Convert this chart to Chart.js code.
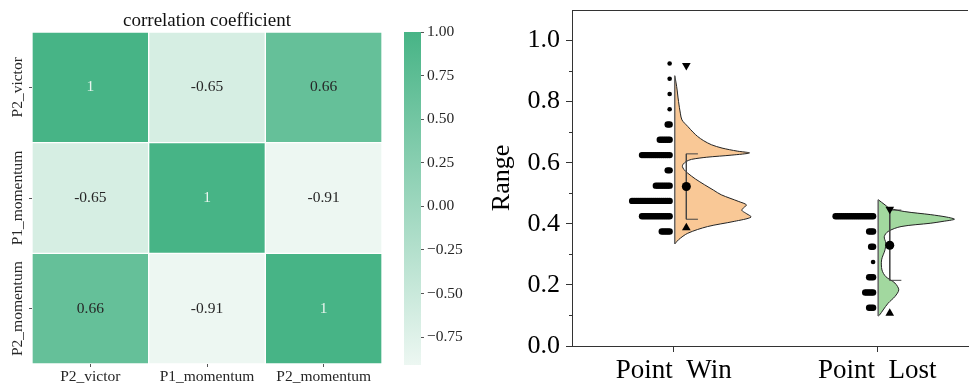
<!DOCTYPE html>
<html>
<head>
<meta charset="utf-8">
<script src="https://cdn.jsdelivr.net/npm/chart.js@4.4.0/dist/chart.umd.min.js"></script>
<style>
  body { margin: 0; background: #fff; }
  #wrap { position: relative; width: 973px; height: 385px; overflow: hidden; }
  canvas { position: absolute; top: 0; }
</style>
</head>
<body>
<div id="wrap">
  <canvas id="heat" width="383" height="385" style="left:0"></canvas>
  <canvas id="cbar" width="85" height="385" style="left:390px"></canvas>
  <canvas id="rain" width="493" height="385" style="left:480px"></canvas>
</div>
<script>
// heatmap data
const VARS = ['P2_victor', 'P1_momentum', 'P2_momentum'];
const CORR = [
  [1, -0.65, 0.66],
  [-0.65, 1, -0.91],
  [0.66, -0.91, 1]
];
const CB_MIN = -0.91, CB_MAX = 1.0;
const CB_TICKS = [-0.75, -0.5, -0.25, 0, 0.25, 0.5, 0.75, 1.0];

// raincloud data
const GROUPS = ['Point  Win', 'Point  Lost'];
const Y_TICKS = [0, 0.2, 0.4, 0.6, 0.8, 1.0];
const Y_MINOR = [0.1, 0.3, 0.5, 0.7, 0.9];

// half violin profiles (y, relative density), top -> bottom
const WIN_KDE_Y = [0.885, 0.85, 0.80, 0.76, 0.74, 0.719, 0.70, 0.686, 0.672, 0.659, 0.648, 0.638, 0.632, 0.625, 0.618, 0.611, 0.604, 0.595, 0.588, 0.578, 0.566, 0.547, 0.528, 0.51, 0.495, 0.473, 0.462, 0.452, 0.444, 0.435, 0.422, 0.408, 0.391, 0.369, 0.348, 0.334];
const WIN_KDE   = [0, 0.025, 0.05, 0.075, 0.095, 0.17, 0.24, 0.30, 0.38, 0.48, 0.62, 0.82, 0.98, 0.75, 0.42, 0.22, 0.15, 0.11, 0.10, 0.12, 0.17, 0.27, 0.39, 0.51, 0.61, 0.84, 0.94, 0.90, 0.88, 0.93, 1.0, 0.78, 0.43, 0.17, 0.05, 0];
const LOST_KDE_Y = [0.479, 0.462, 0.451, 0.44, 0.43, 0.422, 0.415, 0.408, 0.402, 0.391, 0.375, 0.358, 0.337, 0.315, 0.282, 0.249, 0.227, 0.206, 0.184, 0.162, 0.14, 0.118, 0.102, 0.098];
const LOST_KDE   = [0, 0.09, 0.15, 0.35, 0.69, 0.9, 1.0, 0.85, 0.69, 0.30, 0.13, 0.08, 0.10, 0.09, 0.045, 0.05, 0.10, 0.22, 0.27, 0.22, 0.13, 0.065, 0.02, 0];

// dot strips (bin centre, count)
const WIN_BINS   = [0.925, 0.875, 0.825, 0.775, 0.725, 0.675, 0.625, 0.575, 0.525, 0.475, 0.425, 0.375];
const WIN_COUNTS = [1, 1, 1, 1, 2, 6, 15, 2, 8, 20, 15, 5];
const LOST_BINS   = [0.425, 0.375, 0.325, 0.275, 0.225, 0.175, 0.125];
const LOST_COUNTS = [20, 3, 2, 1, 3, 5, 3];

// summary stats per group
const MEAN = [0.522, 0.33];
const SD   = [0.107, 0.115];
const P_HI = [0.918, 0.448];
const P_LO = [0.387, 0.107];

// styles
const SERIF = '"Liberation Serif", "Times New Roman", serif';
const AXIS = '#333';
const LOW = [237, 247, 242], HIGH = [71, 180, 134];
const FILLS = ['#f9c896', '#a2d89f'];
const VIOLIN_W = 0.375, BASE_OFF = 0.005, DOT_OFF = 0.02, DOT_STEP = 0.0097;
const STAT_OFF = 0.062, CAP = 0.057;

Chart.defaults.font.family = SERIF;
Chart.defaults.animation = false;

function cmap(v) {
  const t = (v - CB_MIN) / (CB_MAX - CB_MIN);
  const c = LOW.map((l, i) => Math.round(l + (HIGH[i] - l) * t));
  return `rgb(${c[0]},${c[1]},${c[2]})`;
}

// heatmap
const heatText = {
  id: 'heatText',
  afterDatasetsDraw(chart) {
    const c = chart.ctx;
    c.save();
    c.font = '15.5px ' + SERIF;
    c.textAlign = 'center';
    c.textBaseline = 'middle';
    chart.data.datasets.forEach((ds, di) => {
      chart.getDatasetMeta(di).data.forEach((bar, col) => {
        const v = CORR[ds.row][col];
        c.fillStyle = v === 1 ? '#e8f5ee' : '#262626';
        c.fillText(v === 1 ? '1' : v.toFixed(2), bar.x, (bar.y + bar.base) / 2);
      });
    });
    const ys = chart.scales.y;
    c.fillStyle = '#262626';
    VARS.forEach((name, r) => {
      c.save();
      c.translate(chart.chartArea.left - 14, ys.getPixelForValue(VARS.length - 0.5 - r));
      c.rotate(-Math.PI / 2);
      c.fillText(name, 0, 0);
      c.restore();
    });
    c.restore();
  }
};

new Chart(document.getElementById('heat'), {
  type: 'bar',
  data: {
    labels: VARS,
    datasets: [2, 1, 0].map(r => ({
      row: r,
      data: VARS.map(() => 1),
      backgroundColor: ctx => cmap(CORR[r][ctx.dataIndex]),
      borderColor: '#fff',
      borderWidth: 1,
      borderSkipped: false,
      barPercentage: 1,
      categoryPercentage: 1
    }))
  },
  options: {
    responsive: false,
    devicePixelRatio: 1,
    layout: { padding: { right: 1 } },
    plugins: {
      legend: { display: false },
      tooltip: { enabled: false },
      title: {
        display: true, text: 'correlation coefficient', color: '#111', fullSize: false,
        font: { family: SERIF, size: 19, weight: 'normal' },
        padding: { top: 9.2, bottom: 0 }
      }
    },
    scales: {
      x: {
        stacked: true,
        grid: { offset: false, drawOnChartArea: false, tickLength: 3, color: '#555' },
        border: { display: false },
        ticks: { color: '#262626', font: { size: 15.5 }, padding: 1, maxRotation: 0 },
        afterFit: s => { s.height = 21; }
      },
      y: {
        stacked: true, min: 0, max: 3,
        afterBuildTicks: s => { s.ticks = [0.5, 1.5, 2.5].map(v => ({ value: v })); },
        ticks: { display: false },
        grid: { drawOnChartArea: false, tickLength: 3, color: '#555' },
        border: { display: false },
        afterFit: s => { s.width = 32; }
      }
    }
  },
  plugins: [heatText]
});

// colorbar
new Chart(document.getElementById('cbar'), {
  type: 'bar',
  data: {
    labels: [''],
    datasets: [{
      data: [[CB_MIN, CB_MAX]],
      backgroundColor: ctx => {
        const { chart } = ctx;
        if (!chart.chartArea) return cmap(0);
        const y = chart.scales.y;
        const g = chart.ctx.createLinearGradient(0, y.getPixelForValue(CB_MIN), 0, y.getPixelForValue(CB_MAX));
        g.addColorStop(0, cmap(CB_MIN));
        g.addColorStop(1, cmap(CB_MAX));
        return g;
      },
      borderWidth: 0,
      barPercentage: 1,
      categoryPercentage: 1
    }]
  },
  options: {
    responsive: false,
    devicePixelRatio: 1,
    layout: { padding: { left: 14, top: 32, bottom: 20 } },
    plugins: { legend: { display: false }, tooltip: { enabled: false } },
    scales: {
      x: { display: false },
      y: {
        position: 'right', min: CB_MIN, max: CB_MAX,
        afterBuildTicks: s => { s.ticks = CB_TICKS.map(v => ({ value: v })); },
        ticks: {
          color: '#262626', font: { size: 15.5 }, padding: 3,
          callback: v => v.toFixed(2).replace('-', '\u2212')
        },
        grid: { drawOnChartArea: false, tickLength: 3, color: '#555' },
        border: { display: false },
        afterFit: s => { s.width = 54; }
      }
    }
  }
});

// raincloud
function violin(g, ys, dens) {
  const base = g + 1 + BASE_OFF;
  return ys.map((y, i) => ({ x: base + dens[i] * VIOLIN_W, y }));
}
function baseline(g, ys) {
  const base = g + 1 + BASE_OFF;
  return [{ x: base, y: ys[0] }, { x: base, y: ys[ys.length - 1] }];
}
function dots(g, bins, counts) {
  const pts = [];
  bins.forEach((b, i) => {
    for (let k = 0; k < counts[i]; k++) pts.push({ x: g + 1 - DOT_OFF - k * DOT_STEP, y: b, n: counts[i] });
  });
  return pts;
}
function bracket(g) {
  const x = g + 1 + STAT_OFF;
  const hi = MEAN[g] + SD[g], lo = MEAN[g] - SD[g];
  return [{ x: x + CAP, y: hi }, { x, y: hi }, { x, y: lo }, { x: x + CAP, y: lo }];
}

const kdes = [[WIN_KDE_Y, WIN_KDE], [LOST_KDE_Y, LOST_KDE]];
const strips = [[WIN_BINS, WIN_COUNTS], [LOST_BINS, LOST_COUNTS]];
const rainSets = [];
GROUPS.forEach((name, g) => {
  rainSets.push({
    type: 'line', data: violin(g, kdes[g][0], kdes[g][1]), order: 6,
    fill: 'shape', backgroundColor: FILLS[g], borderColor: '#222', borderWidth: 1,
    tension: 0.3, pointRadius: 0
  });
  rainSets.push({
    type: 'line', data: baseline(g, kdes[g][0]), order: 5,
    borderColor: '#666', borderWidth: 1.5, pointRadius: 0, fill: false
  });
  rainSets.push({
    type: 'scatter', data: dots(g, strips[g][0], strips[g][1]), order: 4,
    // lone dots are drawn a little smaller, as in the source figure
    pointRadius: ctx => (ctx.raw && ctx.raw.n === 1 ? 2.3 : 3.2),
    pointBorderWidth: 0, backgroundColor: '#000'
  });
  rainSets.push({
    type: 'line', data: bracket(g), order: 3,
    borderColor: '#444', borderWidth: 1, pointRadius: 0, fill: false, tension: 0
  });
  rainSets.push({
    type: 'scatter', data: [{ x: g + 1 + STAT_OFF, y: MEAN[g] }], order: 2,
    pointRadius: 4.5, pointBorderWidth: 0, backgroundColor: '#000'
  });
  rainSets.push({
    type: 'scatter', data: [{ x: g + 1 + STAT_OFF, y: P_HI[g] }], order: 1,
    pointStyle: 'triangle', rotation: 180, pointRadius: 5, pointBorderWidth: 0, backgroundColor: '#000'
  });
  rainSets.push({
    type: 'scatter', data: [{ x: g + 1 + STAT_OFF, y: P_LO[g] }], order: 1,
    pointStyle: 'triangle', pointRadius: 5, pointBorderWidth: 0, backgroundColor: '#000'
  });
});

const frame = {
  id: 'frame',
  afterDraw(chart) {
    const { ctx: c, chartArea: a, scales: { y } } = chart;
    c.save();
    c.strokeStyle = AXIS;
    c.lineWidth = 1;
    c.beginPath();
    c.moveTo(a.left, a.top + 0.5);
    c.lineTo(a.right, a.top + 0.5);
    Y_MINOR.forEach(v => {
      const p = Math.round(y.getPixelForValue(v)) + 0.5;
      c.moveTo(a.left - 3, p);
      c.lineTo(a.left, p);
    });
    c.stroke();
    c.restore();
  }
};

new Chart(document.getElementById('rain'), {
  type: 'scatter',
  data: { datasets: rainSets },
  options: {
    responsive: false,
    devicePixelRatio: 1,
    layout: { padding: { top: 10, right: 0 } },
    plugins: { legend: { display: false }, tooltip: { enabled: false } },
    scales: {
      x: {
        type: 'linear', min: 0.5, max: 2.4466,
        afterBuildTicks: s => { s.ticks = GROUPS.map((n, i) => ({ value: i + 1 })); },
        ticks: {
          autoSkip: false, maxRotation: 0, color: '#000', font: { size: 27 }, padding: 3,
          callback: v => GROUPS[Math.round(v) - 1]
        },
        grid: { drawOnChartArea: false, tickLength: 6, color: AXIS },
        border: { color: AXIS, width: 1 },
        afterFit: s => { s.height = 39; s.paddingLeft = 0; s.paddingRight = 0; }
      },
      y: {
        min: 0, max: 1.1,
        afterBuildTicks: s => { s.ticks = Y_TICKS.map(v => ({ value: v })); },
        ticks: { color: '#000', font: { size: 26 }, padding: 6, callback: v => v.toFixed(1) },
        grid: { drawOnChartArea: false, tickLength: 6, color: AXIS },
        border: { color: AXIS, width: 1 },
        title: { display: true, text: 'Range', color: '#000', font: { size: 26 }, padding: { top: 7, bottom: 0 } },
        afterFit: s => { s.width = 92; s.paddingTop = 0; s.paddingBottom = 0; }
      }
    }
  },
  plugins: [frame]
});
</script>
</body>
</html>
